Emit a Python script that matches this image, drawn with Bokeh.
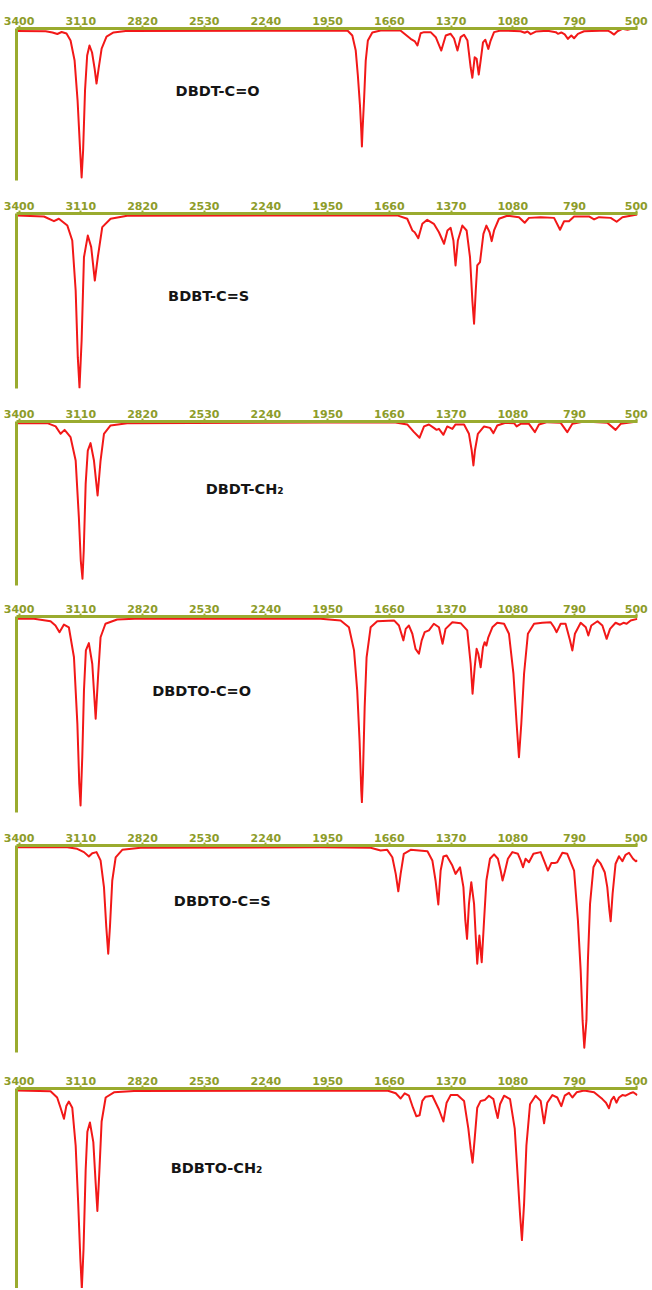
from bokeh.plotting import figure
from bokeh.models import Range1d, FixedTicker, Label
from bokeh.layouts import column
from bokeh.embed import file_html
from bokeh.resources import INLINE

# ---- data (wavenumber cm-1, transmittance %) ----
tick_values = [3400, 3110, 2820, 2530, 2240, 1950, 1660, 1370, 1080, 790, 500]
names = ["DBDT-C=O", "BDBT-C=S", "DBDT-CH\u2082", "DBDTO-C=O", "DBDTO-C=S", "BDBTO-CH\u2082"]

wn1 = [3410, 3275, 3243, 3220, 3200, 3177, 3158, 3139, 3125, 3113, 3106, 3099, 3090, 3080, 3069, 3057, 3045, 3036, 3026, 3012, 2989, 2956, 2899,
       1857, 1834, 1818, 1808, 1798, 1792, 1789, 1786, 1779, 1771, 1761, 1740, 1701,
       1608, 1560, 1540, 1528, 1513, 1497, 1466, 1442, 1416, 1395, 1372, 1356, 1340, 1325, 1309, 1293, 1278, 1270, 1259, 1250,
       1240, 1231, 1220, 1209, 1195, 1184, 1168, 1137, 1043, 1024, 1011, 996, 972, 917, 878, 868, 852, 836, 821, 805,
       792, 774, 745, 635, 620, 604, 588, 565, 541, 518, 502]
t1 = [98.4, 98.2, 97.4, 96.4, 97.7, 96.7, 92.1, 78.9, 52.6, 19.7, 2.0, 19.7, 59.2, 82.2, 88.8, 84.2, 73.7, 63.8, 73.7, 86.8, 94.7, 97.4, 98.4,
      98.7, 95.4, 85.5, 69.1, 49.3, 32.9, 22.4, 32.9, 52.6, 78.9, 92.1, 97.4, 98.7,
      98.7, 93.2, 91.5, 88.8, 96.9, 97.6, 97.6, 94.3, 85.5, 95.4, 96.5, 93.4, 85.5, 94.3, 95.9, 92.1, 74.5, 67.6, 81.1, 80.1,
      69.7, 78.9, 90.9, 92.6, 86.6, 92.1, 97.6, 98.7, 98.2, 97.2, 98.0, 96.3, 98.0, 98.5, 97.6, 96.5, 97.4, 96.1, 93.2, 95.4,
      93.6, 96.5, 98.2, 98.7, 97.6, 96.0, 98.2, 99.8, 99.1, 100.0, 100.0]

wn2 = [3410, 3283, 3236, 3213, 3173, 3150, 3134, 3124, 3116, 3106, 3095, 3077, 3061, 3044, 3030, 3009, 2970, 2892,
       1623, 1576, 1552, 1541, 1524, 1505, 1482, 1451, 1427, 1403, 1387, 1372, 1359, 1349, 1338, 1317, 1297, 1281, 1270, 1262,
       1254, 1247, 1234, 1218, 1204, 1189, 1179, 1168, 1145, 1106, 1051, 1024, 1004, 949, 886, 858, 839, 816, 792, 722,
       698, 675, 620, 592, 565, 495]
t2 = [98.8, 98.3, 95.6, 97.0, 93.1, 84.6, 56.0, 17.9, 0.5, 27.4, 75.0, 87.4, 80.8, 61.7, 75.0, 92.2, 97.0, 98.7,
      98.9, 97.0, 90.3, 89.3, 85.9, 94.1, 96.4, 94.1, 89.3, 82.7, 90.3, 91.8, 84.6, 70.3, 84.6, 93.1, 90.3, 75.0, 50.3, 37.0,
      56.0, 70.3, 72.2, 88.4, 93.1, 89.3, 84.2, 90.3, 97.0, 98.7, 97.9, 94.7, 97.5, 97.9, 97.5, 90.7, 95.6, 95.6, 98.3, 98.3,
      96.6, 97.9, 97.5, 95.3, 97.9, 99.4]

wn3 = [3410, 3267, 3228, 3205, 3186, 3158, 3134, 3119, 3110, 3102, 3096, 3087, 3077, 3064, 3048, 3031, 3017, 3001, 2970, 2892,
       1638, 1576, 1544, 1518, 1497, 1474, 1451, 1438, 1427, 1406, 1388, 1364, 1349, 1309, 1286, 1273, 1265, 1258, 1244, 1215,
       1187, 1171, 1153, 1114, 1074, 1062, 1043, 1004, 976, 957, 918, 855, 824, 800, 745, 636, 597, 573, 495]
t3 = [99.0, 99.0, 97.0, 92.5, 94.9, 90.4, 76.2, 41.6, 15.2, 4.1, 21.3, 62.0, 82.3, 86.8, 76.2, 54.9, 76.2, 92.5, 97.6, 99.0,
      99.6, 98.2, 93.5, 90.1, 97.0, 98.2, 96.1, 94.9, 95.5, 91.9, 97.0, 95.5, 98.2, 98.2, 92.5, 82.3, 73.2, 82.3, 92.5, 97.0,
      96.1, 92.9, 97.6, 99.2, 99.0, 97.0, 98.6, 98.6, 93.5, 98.2, 99.6, 99.2, 93.5, 98.6, 100.0, 99.2, 94.9, 98.6, 100.0]

wn4 = [3410, 3330, 3252, 3229, 3210, 3189, 3166, 3142, 3126, 3117, 3111, 3103, 3095, 3086, 3072, 3056, 3040, 3028, 3017, 2994, 2939, 2829,
       1983, 1889, 1850, 1826, 1811, 1800, 1792, 1789, 1784, 1776, 1767, 1748, 1717, 1638, 1615, 1594, 1583, 1568, 1552, 1537,
       1521, 1508, 1494, 1474, 1451, 1427, 1410, 1396, 1364, 1325, 1294, 1278, 1269, 1259, 1250, 1242, 1231, 1220, 1212, 1204,
       1195, 1176, 1153, 1121, 1098, 1077, 1062, 1051, 1040, 1027, 1009, 980, 941, 902, 886, 874, 855, 832, 811, 800,
       788, 761, 737, 725, 711, 682, 659, 639, 623, 597, 576, 560, 545, 526, 495]
t4 = [98.8, 98.8, 97.6, 95.4, 92.0, 95.9, 94.5, 79.2, 45.3, 14.6, 3.6, 28.2, 62.2, 82.7, 86.4, 75.9, 47.8, 70.8, 89.4, 96.3, 98.5, 99.0,
      98.8, 98.0, 94.5, 82.7, 62.2, 36.7, 11.2, 5.3, 19.7, 53.7, 79.2, 94.5, 97.6, 98.0, 95.4, 87.8, 93.7, 95.4, 91.2, 83.5,
      81.0, 87.8, 92.0, 92.9, 96.3, 94.5, 86.1, 93.7, 97.1, 96.6, 92.9, 75.9, 60.6, 74.1, 83.5, 81.0, 74.1, 84.3, 86.9, 85.2,
      89.4, 94.5, 96.8, 96.3, 91.2, 70.8, 45.3, 28.2, 45.3, 70.8, 91.2, 96.3, 96.8, 97.1, 94.5, 92.0, 96.3, 96.3, 87.8, 82.7,
      91.2, 96.8, 94.5, 90.3, 95.4, 97.6, 95.4, 88.6, 93.7, 96.8, 95.8, 96.8, 96.3, 98.0, 98.8]

wn5 = [3410, 3173, 3127, 3095, 3072, 3056, 3036, 3017, 3001, 2990, 2981, 2973, 2962, 2946, 2915, 2829,
       1983, 1748, 1701, 1670, 1646, 1630, 1618, 1607, 1592, 1560, 1481, 1458, 1443, 1430, 1419, 1406, 1391, 1364, 1349, 1328,
       1312, 1303, 1295, 1286, 1275, 1262, 1254, 1247, 1237, 1226, 1215, 1204, 1187, 1168, 1150, 1137, 1128, 1118, 1103, 1082,
       1056, 1043, 1032, 1020, 1004, 983, 949, 930, 915, 899, 883, 871, 847, 824, 792, 774, 761, 752, 744, 734,
       727, 717, 701, 683, 667, 648, 636, 626, 620, 611, 597, 581, 565, 550, 534, 515, 502, 494]
t5 = [99.2, 99.2, 98.4, 96.8, 94.7, 96.3, 96.8, 92.8, 79.9, 60.5, 47.7, 60.5, 83.1, 94.3, 97.9, 98.9,
      99.2, 98.9, 97.6, 97.9, 94.3, 86.3, 77.9, 86.3, 96.0, 97.9, 97.2, 92.8, 83.1, 71.5, 87.9, 94.7, 95.2, 90.3, 86.3, 89.5,
      79.9, 63.8, 54.9, 71.8, 82.3, 71.8, 55.7, 42.9, 56.5, 43.6, 63.8, 83.1, 93.6, 95.7, 93.6, 87.9, 83.1, 87.1, 93.6, 96.8,
      96.0, 92.8, 89.5, 93.6, 91.9, 96.0, 96.8, 91.9, 87.9, 91.5, 91.5, 91.9, 96.5, 96.0, 87.9, 63.8, 39.6, 15.5, 2.3, 15.5,
      44.4, 71.8, 89.5, 93.2, 91.2, 87.1, 79.9, 68.6, 63.4, 76.7, 91.2, 94.8, 92.4, 95.5, 96.5, 93.6, 92.4, 92.8]

wn6 = [3410, 3252, 3221, 3205, 3189, 3178, 3166, 3150, 3134, 3122, 3112, 3105, 3097, 3087, 3079, 3067, 3051, 3040, 3032, 3023, 3012, 2993, 2954, 2860,
       1670, 1630, 1607, 1588, 1568, 1549, 1533, 1518, 1505, 1490, 1458, 1427, 1406, 1391, 1372, 1340, 1309, 1289, 1278, 1269,
       1259, 1247, 1231, 1212, 1192, 1171, 1159, 1151, 1140, 1121, 1093, 1071, 1056, 1046, 1037, 1027, 1016, 999, 973, 949,
       933, 918, 894, 871, 852, 836, 816, 800, 780, 745, 698, 659, 642, 628, 617, 605, 593, 581, 565, 550, 529, 514, 495]
t6 = [99.0, 98.6, 95.5, 90.4, 84.9, 91.2, 93.5, 90.4, 71.5, 42.3, 14.8, 0.0, 19.9, 59.4, 78.4, 83.0, 73.2, 52.6, 38.8, 57.7, 83.5, 95.5, 98.1, 98.8,
      99.0, 97.6, 95.0, 97.6, 96.4, 90.4, 86.1, 86.6, 93.8, 95.9, 96.4, 89.5, 83.5, 92.9, 96.7, 96.7, 93.8, 80.1, 69.8, 62.9,
      74.9, 90.4, 93.8, 94.2, 96.4, 94.7, 88.7, 85.2, 92.1, 96.4, 94.7, 80.1, 54.3, 37.1, 24.2, 42.3, 71.5, 92.1, 96.4, 93.8,
      82.6, 92.9, 96.7, 95.5, 91.2, 96.4, 97.8, 95.5, 98.1, 99.0, 98.1, 94.7, 92.9, 90.1, 94.2, 95.9, 92.9, 95.5, 96.7, 96.4, 97.6, 98.1, 96.7]

spectra = [(wn1, t1), (wn2, t2), (wn3, t3), (wn4, t4), (wn5, t5), (wn6, t6)]

# ---- layout / style ----
label_pos = [(2467, 58.6), (2509, 52.6), (2340, 59.0), (2542, 62.2), (2445, 73.4), (2472, 60.3)]
heights = [193, 208, 195, 229, 243, 220]
tops = [28, 20, 20, 20, 20, 20]
bottoms = [13, 13, 11, 13, 16, 0]

OLIVE = "#9aab2f"
OLIVE_TXT = "#8d9c2a"
RED = "#f21818"
FONT = "DejaVu Sans"

figs = []
for i, (wn, tt) in enumerate(spectra):
    p = figure(width=652, height=heights[i], x_range=Range1d(3412, 494), y_range=Range1d(0, 100),
               output_backend="svg", toolbar_location=None, x_axis_location="above",
               min_border_left=16, min_border_right=15, min_border_top=tops[i], min_border_bottom=bottoms[i],
               title=None)
    p.outline_line_color = None
    p.grid.visible = False
    p.background_fill_color = "white"
    p.border_fill_color = "white"

    xa = p.xaxis[0]
    xa.ticker = FixedTicker(ticks=tick_values, minor_ticks=[])
    xa.axis_line_color = OLIVE
    xa.axis_line_width = 3
    xa.major_tick_line_color = OLIVE
    xa.major_tick_line_width = 2
    xa.major_tick_out = 3
    xa.major_tick_in = 0
    xa.minor_tick_line_color = None
    xa.major_label_text_color = OLIVE_TXT
    xa.major_label_text_font = FONT
    xa.major_label_text_font_style = "bold"
    xa.major_label_text_font_size = "11px"
    xa.major_label_standoff = 1

    ya = p.yaxis[0]
    ya.ticker = FixedTicker(ticks=[], minor_ticks=[])
    ya.major_label_text_font_size = "0px"
    ya.major_tick_out = 0
    ya.major_tick_in = 0
    ya.minor_tick_line_color = None
    ya.major_tick_line_color = None
    ya.axis_line_color = OLIVE
    ya.axis_line_width = 3
    ya.major_label_standoff = 0

    p.line(wn, tt, line_color=RED, line_width=2, line_join="round")

    lx, ly = label_pos[i]
    p.add_layout(Label(x=lx, y=ly, text=names[i], text_align="center", text_baseline="middle",
                       text_font=FONT, text_font_style="bold", text_font_size="14.5px",
                       text_color="#151515"))
    figs.append(p)

layout = column(*figs, spacing=0)
open("out.html", "w").write(file_html(layout, INLINE))
